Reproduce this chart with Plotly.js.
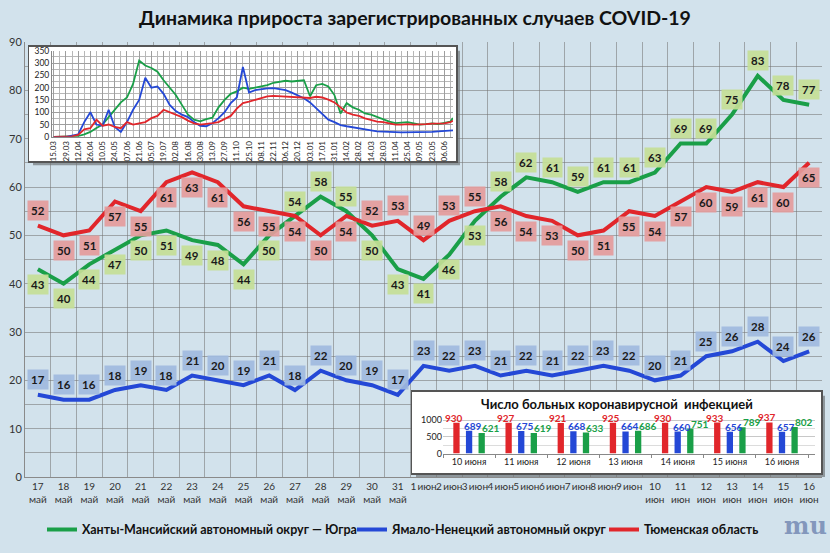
<!DOCTYPE html>
<html><head><meta charset="utf-8">
<script src="https://cdn.plot.ly/plotly-3.0.1.min.js"></script>
<style>html,body{margin:0;padding:0;background:#d2e2ec}#chart{width:830px;height:553px}</style>
</head><body><div id="chart"></div>
<script>
// ---- main chart data ----
const dayLabels = ['17<br>май','18<br>май','19<br>май','20<br>май','21<br>май','22<br>май','23<br>май','24<br>май','25<br>май','26<br>май','27<br>май','28<br>май','29<br>май','30<br>май','31<br>май',
  '1\u2009июн','2\u2009июн','3\u2009июн','4\u2009июн','5\u2009июн','6\u2009июн','7\u2009июн','8\u2009июн','9\u2009июн',
  '10<br>июн','11<br>июн','12<br>июн','13<br>июн','14<br>июн','15<br>июн','16<br>июн'];
const khmao  = [43,40,44,47,50,51,49,48,44,50,54,58,55,50,43,41,46,53,58,62,61,59,61,61,63,69,69,75,83,78,77];
const yanao  = [17,16,16,18,19,18,21,20,19,21,18,22,20,19,17,23,22,23,21,22,21,22,23,22,20,21,25,26,28,24,26];
const tyumen = [52,50,51,57,55,61,63,61,56,55,54,50,54,52,53,49,53,55,56,54,53,50,51,55,54,57,60,59,61,60,65];
const seriesNames = ['Ханты-Мансийский автономный округ — Югра','Ямало-Ненецкий автономный округ','Тюменская область'];
// label placement: 'a' above, 'b' below
const khmaoSide  = 'bbbbbbbbbbaaabbbbbaaaaaaaaaaaaa'.split('');
const tyumenSide = 'abbbbbbbbbbbbaaaaabbbbbbbbbbbbb'.split('');

// ---- inset 1: long history (weekly readings) ----
const insetDates = ['2020-03-15','2020-03-22','2020-03-29','2020-04-05','2020-04-12','2020-04-19','2020-04-26','2020-05-03','2020-05-10','2020-05-17','2020-05-24','2020-05-31',
 '2020-06-07','2020-06-14','2020-06-21','2020-06-28','2020-07-05','2020-07-12','2020-07-19','2020-07-26','2020-08-02','2020-08-09','2020-08-16','2020-08-23','2020-08-30',
 '2020-09-06','2020-09-13','2020-09-20','2020-09-27','2020-10-04','2020-10-11','2020-10-18','2020-10-25','2020-11-01','2020-11-08','2020-11-15','2020-11-22','2020-11-29',
 '2020-12-06','2020-12-13','2020-12-20','2020-12-27','2021-01-03','2021-01-10','2021-01-17','2021-01-24','2021-01-31','2021-02-07','2021-02-14','2021-02-21','2021-02-28',
 '2021-03-07','2021-03-14','2021-03-21','2021-03-28','2021-04-04','2021-04-11','2021-04-18','2021-04-25','2021-05-02','2021-05-09','2021-05-16','2021-05-23','2021-05-30',
 '2021-06-06','2021-06-13','2021-06-16'];
const histKhmao = [0,0,0,0,3,10,20,36,50,80,110,140,160,215,310,290,280,265,230,200,170,130,90,70,63,72,78,120,150,175,185,200,195,200,205,210,220,225,228,225,228,230,
  165,210,215,205,170,95,137,120,110,95,90,80,72,62,56,58,60,55,50,52,55,52,56,62,77];
const histYanao = [0,0,0,5,10,60,100,50,45,110,40,20,60,110,150,240,200,205,175,130,105,90,80,60,45,43,55,76,100,137,160,284,180,190,195,197,198,195,190,180,170,157,
  140,116,95,70,60,48,43,38,33,28,26,22,20,19,19,18,18,18,18,19,20,22,23,24,26];
const histTyumen = [0,0,0,2,8,30,35,70,45,50,40,35,60,50,55,60,76,85,110,100,90,80,66,55,50,52,56,60,72,85,115,137,143,150,160,165,167,165,165,162,160,157,
  158,163,160,151,140,120,99,90,85,75,68,62,60,55,50,50,52,50,50,52,54,54,55,60,65];

// ---- inset 2: active cases ----
const barDays = ['10 июня','11 июня','12 июня','13 июня','14 июня','15 июня','16 июня'];
const barTyumen = [930,927,921,925,930,933,937];
const barYanao  = [689,675,668,664,660,656,657];
const barKhmao  = [621,619,633,686,751,789,802];

const GREEN='#1a9f48', BLUE='#2448d6', RED='#e1262b';
const FONT='Lato, "Open Sans", sans-serif';

// pixel helpers for layout geometry (plot area: x 25..822, y 42..487)
const PX0=25, PW=797, PY0=487, PH=445;
const fx = p => (p-PX0)/PW;
const fy = p => (PY0-p)/PH;

const traces = [
  {x:dayLabels, y:khmao, name:seriesNames[0], type:'scatter', mode:'lines', line:{color:GREEN,width:4}, legend:'legend'},
  {x:dayLabels, y:yanao, name:seriesNames[1], type:'scatter', mode:'lines', line:{color:BLUE,width:4}, legend:'legend2'},
  {x:dayLabels, y:tyumen, name:seriesNames[2], type:'scatter', mode:'lines', line:{color:RED,width:4}, legend:'legend3'},
  // box for inset 1
  {x:[], y:[], xaxis:'x2', yaxis:'y2', type:'scatter', showlegend:false, hoverinfo:'skip'},
  {x:insetDates, y:histKhmao, xaxis:'x3', yaxis:'y3', type:'scatter', mode:'lines', line:{color:GREEN,width:1.8}, showlegend:false},
  {x:insetDates, y:histYanao, xaxis:'x3', yaxis:'y3', type:'scatter', mode:'lines', line:{color:BLUE,width:1.8}, showlegend:false},
  {x:insetDates, y:histTyumen, xaxis:'x3', yaxis:'y3', type:'scatter', mode:'lines', line:{color:RED,width:1.8}, showlegend:false},
  // box for inset 2
  {x:[], y:[], xaxis:'x4', yaxis:'y4', type:'scatter', showlegend:false, hoverinfo:'skip'},
];

const annotations = [];
// bar series and their value labels (placed through the x5/y5 scales)
[[barTyumen,RED,-15],[barYanao,BLUE,4],[barKhmao,GREEN,22]].forEach(([vals,c,shift])=>{
  traces.push({x:barDays, y:vals, xaxis:'x5', yaxis:'y5', type:'bar', marker:{color:c}, showlegend:false});
  vals.forEach((v,i)=>annotations.push({xref:'x5', yref:'y5', x:barDays[i], y:v, text:String(v), showarrow:false,
    xanchor:'center', yanchor:'bottom', xshift:shift, yshift:-3,
    font:{family:FONT, size:10, color:c, weight:700}}));
});

function addLabels(vals, sides, bg){
  vals.forEach((v,i)=>{
    const s = sides ? sides[i] : 'a';
    annotations.push({xref:'x', yref:'y', x:dayLabels[i], y:v, text:String(v), showarrow:false,
      yshift: s==='a'?15:-15, bgcolor:bg, borderpad:3,
      font:{family:FONT, size:11.5, color:'#1a1a1a', weight:700}});
  });
}
addLabels(khmao, khmaoSide, 'rgba(196,222,150,0.92)');
addLabels(tyumen, tyumenSide, 'rgba(228,155,155,0.92)');
addLabels(yanao, null, 'rgba(160,186,222,0.92)');
annotations.push({xref:'paper', yref:'paper', x:fx(617), y:fy(412), xanchor:'center', yanchor:'middle',
  text:'Число больных коронавирусной  инфекцией',
  showarrow:false, font:{family:FONT, size:13, color:'#111', weight:700}});
annotations.push({xref:'paper', yref:'paper', x:fx(805), y:fy(537), xanchor:'center', yanchor:'middle', text:'mu', showarrow:false,
  font:{family:'"DejaVu Serif", serif', size:24, color:'rgba(110,130,175,0.8)', weight:700}});

const gridC='rgba(115,115,115,0.55)';
const boxAxis = (dom, anchor)=>({domain:dom, anchor:anchor, range:[0,1], showgrid:false, zeroline:false,
  showticklabels:false, ticks:'', showline:true, mirror:true, linecolor:'#555', linewidth:1.5, fixedrange:true});
const legendFont = {family:FONT, size:12.5, color:'#111', weight:700};
const mkLegend = px => ({orientation:'h', x:fx(px), xanchor:'left', y:fy(541), yanchor:'middle', bgcolor:'rgba(0,0,0,0)', font:legendFont, itemwidth:30});

const layout = {
  width:830, height:553,
  margin:{l:PX0, r:830-PX0-PW, t:PY0-PH, b:553-PY0},
  paper_bgcolor:'#d2e2ec', plot_bgcolor:'#ffffff',
  font:{family:FONT, color:'#333'},
  title:{text:'Динамика прироста зарегистрированных случаев COVID-19', x:0.5, xanchor:'center', y:1-18/553, yanchor:'middle',
    font:{family:FONT, size:19.5, color:'#111', weight:700}},
  showlegend:true,
  legend: mkLegend(42),
  legend2: mkLegend(352),
  legend3: mkLegend(604),
  xaxis:{type:'category', range:[-0.5,30.5], tickmode:'linear', tick0:0, dtick:1, tickson:'boundaries', ticks:'',
    tickangle:0, showgrid:true, gridcolor:gridC, showline:true, linecolor:'#8a8a8a', zeroline:false,
    tickfont:{family:FONT, size:10, color:'#333'}},
  yaxis:{range:[0,90], dtick:10, showgrid:true, gridcolor:gridC, minor:{dtick:5, showgrid:true, gridcolor:gridC},
    showline:true, linecolor:'#8a8a8a', zeroline:false, ticks:'', tickfont:{family:FONT, size:11, color:'#333'}},
  xaxis2: boxAxis([fx(29), fx(456)], 'y2'),
  yaxis2: boxAxis([fy(164), fy(47)], 'x2'),
  xaxis3:{domain:[fx(52), fx(453)], anchor:'y3', type:'date', range:['2020-03-13','2021-06-16'],
    tick0:'2020-03-15', dtick:14*86400000, tickformat:'%d.%m', tickangle:-90, ticks:'',
    tickfont:{family:FONT, size:8, color:'#222'}, showgrid:true, gridcolor:'#9e9e9e', gridwidth:1,
    minor:{dtick:7*86400000, showgrid:true, gridcolor:'#b8b8b8'}, showline:true, linecolor:'#888', zeroline:false},
  yaxis3:{domain:[fy(139), fy(51)], anchor:'x3', range:[0,350], dtick:50, ticks:'',
    tickfont:{family:FONT, size:8.5, color:'#222'}, showgrid:true, gridcolor:'#9e9e9e',
    minor:{dtick:25, showgrid:true, gridcolor:'#b8b8b8'}, showline:true, linecolor:'#888', zeroline:false},
  xaxis4: boxAxis([fx(412), fx(821)], 'y4'),
  yaxis4: boxAxis([fy(483), fy(400)], 'x4'),
  xaxis5:{domain:[fx(443), fx(815)], anchor:'y5', type:'category', ticks:'outside', ticklen:3, tickcolor:'#888',
    tickson:'boundaries', showgrid:false, showline:true, linecolor:'#888', tickfont:{family:FONT, size:9, color:'#222'}},
  yaxis5:{domain:[fy(463), fy(420.5)], anchor:'x5', range:[0,1250], tickvals:[0,500,1000], ticks:'',
    tickfont:{family:FONT, size:9, color:'#222'}, showgrid:true, gridcolor:'#c8c8c8',
    minor:{dtick:250, showgrid:true, gridcolor:'#dcdcdc'}, zeroline:false},
  barmode:'group', bargap:0.275, bargroupgap:0.5,
  shapes:[
    {type:'rect', xref:'paper', yref:'paper', x0:0, x1:1, y0:0, y1:1, fillcolor:'#d2e2ec', line:{width:0}, layer:'below'},
    {type:'rect', xref:'paper', yref:'paper', x0:fx(33), x1:fx(460), y0:fy(168), y1:fy(51), fillcolor:'rgba(60,60,60,0.45)', line:{width:0}, layer:'below'},
    {type:'rect', xref:'paper', yref:'paper', x0:fx(416), x1:fx(825), y0:fy(487), y1:fy(404), fillcolor:'rgba(60,60,60,0.45)', line:{width:0}, layer:'below'}
  ],
  annotations:annotations
};

Plotly.newPlot('chart', traces, layout, {staticPlot:true, displayModeBar:false});
</script>
</body></html>
